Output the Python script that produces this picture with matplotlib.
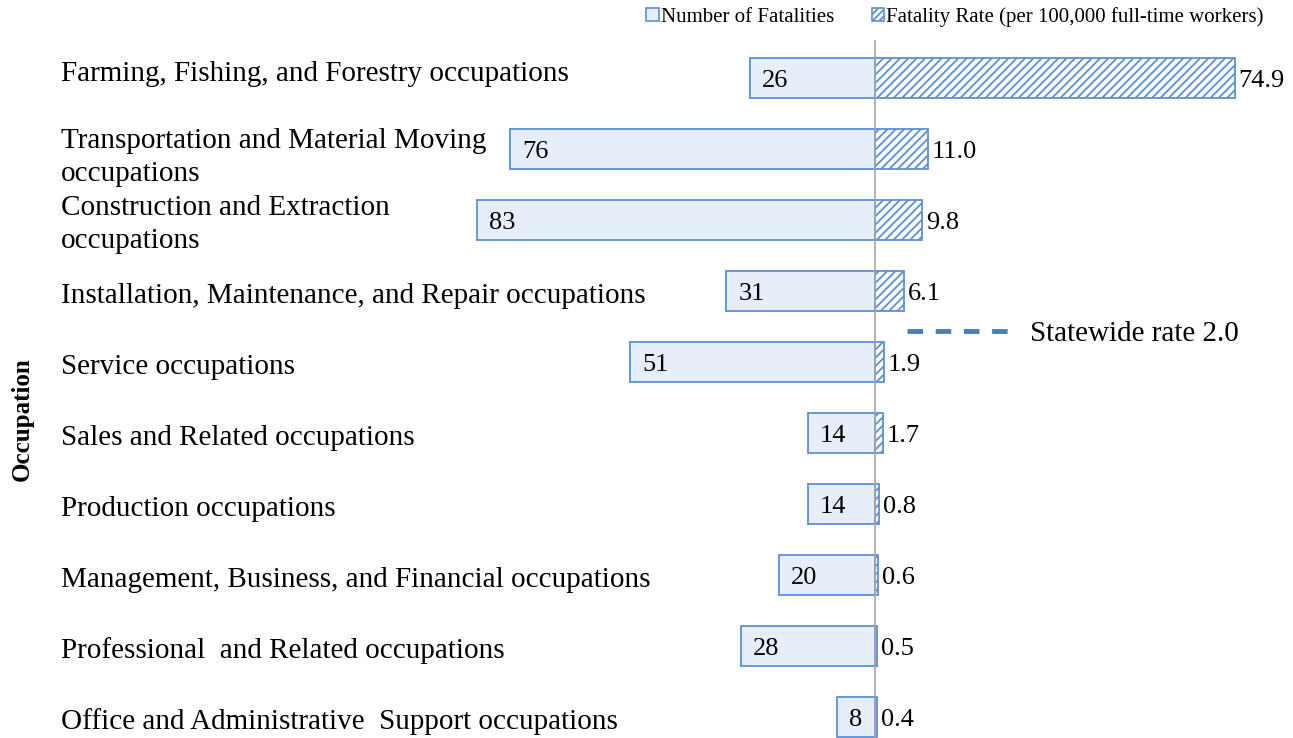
import matplotlib
matplotlib.use("Agg")
import matplotlib.pyplot as plt
from matplotlib.patches import Patch
from matplotlib.lines import Line2D
from matplotlib.transforms import blended_transform_factory

occupations = [
    "Farming, Fishing, and Forestry occupations",
    "Transportation and Material Moving\noccupations",
    "Construction and Extraction\noccupations",
    "Installation, Maintenance, and Repair occupations",
    "Service occupations",
    "Sales and Related occupations",
    "Production occupations",
    "Management, Business, and Financial occupations",
    "Professional  and Related occupations",
    "Office and Administrative  Support occupations",
]
fatalities = [26, 76, 83, 31, 51, 14, 14, 20, 28, 8]
rates = [74.9, 11.0, 9.8, 6.1, 1.9, 1.7, 0.8, 0.6, 0.5, 0.4]
statewide_rate = 2.0

plt.rcParams["font.family"] = ["Liberation Serif", "DejaVu Serif"]
plt.rcParams["hatch.linewidth"] = 1.3

EDGE = "#5b8fd9"
FILL = "#e6eef9"

W, H = 1293, 738
fig = plt.figure(figsize=(W / 100, H / 100), dpi=100)
ax = fig.add_axes([0, 0, 1, 1 - 40 / H])
ax.set_axis_off()

scale = 4.8  # px per unit
ax.set_xlim(-875 / scale, (W - 875) / scale)
ax.set_ylim((738 - 78) / 71, (40 - 78) / 71)

ys = list(range(len(occupations)))
neg = [-v for v in fatalities]
ax.barh(ys, neg, height=0.55, color=FILL, edgecolor=EDGE, linewidth=1.3, zorder=2)
ax.barh(ys, rates, height=0.55, color="white", edgecolor=EDGE, hatch="////",
        linewidth=1.3, zorder=2)
ax.axvline(0, color="#a6a6a6", lw=1.2, zorder=3)

lab_tr = blended_transform_factory(fig.transFigure, ax.transData)
for y, name, f, r in zip(ys, occupations, fatalities, rates):
    if y == 0:
        dy = -0.06
    elif "\n" in name:
        dy = 0.12 if y == 1 else 0.07
    else:
        dy = 0.07
    ax.text(61 / W, y + dy, name, transform=lab_tr, ha="left", va="center",
            fontsize=21, linespacing=1.35)
    ax.text(-f + 12 / scale, y + 0.04, f"{f}", ha="left", va="center", fontsize=19)
    ax.text(r + 4 / scale, y + 0.04, f"{r:.1f}", ha="left", va="center", fontsize=19)

fig.text(22 / W, 1 - 419 / H, "Occupation", rotation=90, ha="center", va="center",
         fontsize=18, fontweight="bold")

handles = [Patch(facecolor=FILL, edgecolor=EDGE, linewidth=1.2),
           Patch(facecolor="white", edgecolor=EDGE, hatch="/////", linewidth=1.2)]
fig.legend(handles, ["Number of Fatalities", "Fatality Rate (per 100,000 full-time workers)"],
           loc="center", bbox_to_anchor=(955 / W, 1 - 17 / H), ncol=2, frameon=False,
           fontsize=15, handlelength=0.6, handleheight=0.6, handletextpad=0.1,
           columnspacing=1.8, borderpad=0)

line_h = Line2D([], [], color="#4a7ebb", lw=3.5, ls=(0, (3.2, 2.6)))
fig.legend([line_h], [f"Statewide rate {statewide_rate:.1f}"], loc="center",
           bbox_to_anchor=(1073 / W, 1 - 334 / H), frameon=False, fontsize=21,
           handlelength=3.7, handletextpad=0.5, borderpad=0)

fig.savefig("out.png", dpi=100)
